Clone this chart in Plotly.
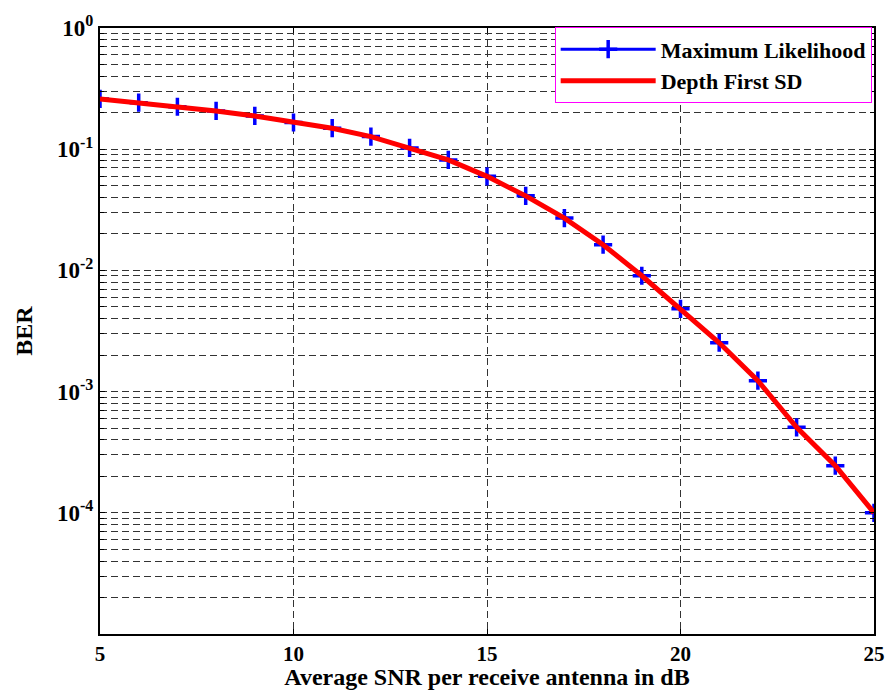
import plotly.graph_objects as go

# Data
snr_db = [5, 6, 7, 8, 9, 10, 11, 12, 13, 14, 15, 16, 17, 18, 19, 20, 21, 22, 23, 24, 25]
ber_ml = [0.260, 0.242, 0.224, 0.207, 0.188, 0.166, 0.149, 0.127, 0.1025, 0.0816,
          0.0597, 0.0412, 0.0270, 0.0163, 0.00903, 0.00482, 0.00253, 0.00123,
          0.000507, 0.000245, 0.0001]
ber_sd = [0.260, 0.242, 0.224, 0.207, 0.188, 0.166, 0.149, 0.127, 0.1025, 0.0816,
          0.0597, 0.0412, 0.0270, 0.0163, 0.00903, 0.00482, 0.00253, 0.00123,
          0.000507, 0.000245, 0.0001]

x_ticks = [5, 10, 15, 20, 25]
y_ticks = [1, 0.1, 0.01, 0.001, 0.0001]
y_ticktext = ["10<sup>0</sup>", "10<sup>-1</sup>", "10<sup>-2</sup>", "10<sup>-3</sup>", "10<sup>-4</sup>"]

FONT = "Liberation Serif"
GRID = "#333333"
DASH = "7px,4px"

fig = go.Figure()
fig.add_trace(go.Scatter(
    x=snr_db, y=ber_ml, mode="lines+markers", name="Maximum Likelihood",
    line=dict(color="#0000FF", width=3),
    marker=dict(symbol="cross-thin", size=13, line=dict(color="#0000FF", width=3.5)),
))
fig.add_trace(go.Scatter(
    x=snr_db, y=ber_sd, mode="lines", name="Depth First SD",
    line=dict(color="#FF0000", width=5),
))

fig.update_layout(
    width=888, height=690,
    margin=dict(l=100, r=14, t=28, b=56),
    paper_bgcolor="white", plot_bgcolor="white",
    font=dict(family=FONT, color="black"),
    showlegend=True,
    legend=dict(
        x=0.997, y=1.001, xanchor="right", yanchor="top",
        bgcolor="white", bordercolor="#FF00FF", borderwidth=1,
        font=dict(family=FONT, size=22, weight="bold", color="black"),
        itemwidth=95, tracegroupgap=0,
    ),
)

fig.update_xaxes(
    range=[5, 25], tickmode="array", tickvals=x_ticks,
    ticks="inside", ticklen=5, tickwidth=1, tickcolor="black",
    showline=True, linecolor="black", linewidth=2, mirror="ticks",
    showgrid=True, gridcolor=GRID, gridwidth=1, griddash=DASH,
    zeroline=False, automargin=False,
    tickfont=dict(family=FONT, size=21, weight="bold"),
    title=dict(text="Average SNR per receive antenna in dB",
               font=dict(family=FONT, size=24, weight="bold"), standoff=2),
)
fig.update_yaxes(
    type="log", range=[-5, 0], tickmode="array", tickvals=y_ticks, ticktext=y_ticktext,
    ticks="inside", ticklen=5, tickwidth=1, tickcolor="black",
    showline=True, linecolor="black", linewidth=2, mirror="ticks",
    showgrid=True, gridcolor=GRID, gridwidth=1, griddash=DASH,
    zeroline=False, automargin=False,
    minor=dict(dtick="D1", ticks="inside", ticklen=4, tickcolor="black",
               showgrid=True, gridcolor=GRID, gridwidth=1, griddash=DASH),
    tickfont=dict(family=FONT, size=23, weight="bold"),
    title=dict(text="BER", font=dict(family=FONT, size=24, weight="bold"), standoff=18),
)

fig.write_html("out.html")
